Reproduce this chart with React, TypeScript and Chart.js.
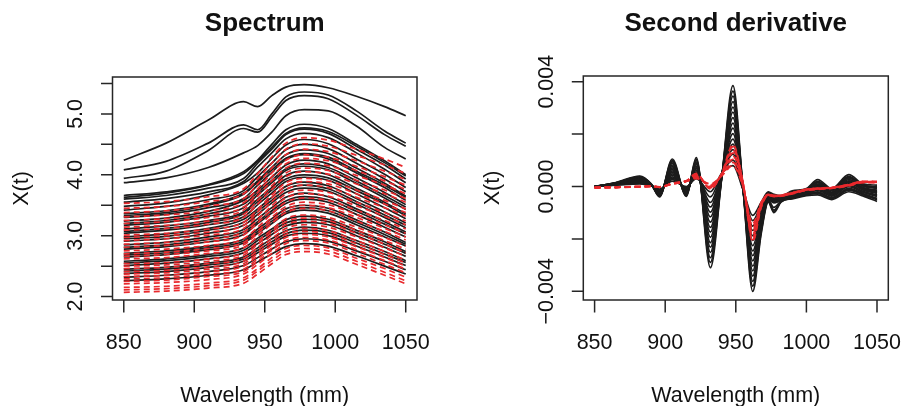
import React, { useEffect, useRef } from "react";
import { Chart, registerables } from "chart.js";
Chart.register(...registerables);

// ---------- Spectrum panel data ----------
const wavelengths = [850, 880, 910, 935, 945, 955, 965, 978, 995, 1015, 1035, 1050];

const spectrumHighFat: number[][] = [
  [4.24, 4.52, 4.90, 5.20, 5.12, 5.30, 5.44, 5.48, 5.43, 5.29, 5.12, 4.97],
  [4.08, 4.22, 4.52, 4.82, 4.74, 5.00, 5.28, 5.36, 5.31, 5.05, 4.72, 4.52],
  [3.94, 4.06, 4.40, 4.76, 4.70, 4.95, 5.22, 5.30, 5.25, 4.98, 4.66, 4.47],
  [3.87, 3.95, 4.12, 4.36, 4.48, 4.70, 4.97, 5.07, 5.05, 4.80, 4.45, 4.26],
  [3.66, 3.72, 3.84, 4.05, 4.24, 4.50, 4.74, 4.83, 4.76, 4.50, 4.23, 4.00],
  [3.63, 3.70, 3.83, 4.02, 4.22, 4.45, 4.68, 4.77, 4.71, 4.47, 4.20, 3.98],
  [3.60, 3.66, 3.78, 3.94, 4.19, 4.42, 4.66, 4.75, 4.68, 4.42, 4.16, 3.93],
  [3.55, 3.61, 3.72, 3.89, 4.13, 4.36, 4.59, 4.68, 4.61, 4.36, 4.09, 3.87],
  [3.48, 3.54, 3.67, 3.86, 4.03, 4.27, 4.49, 4.58, 4.51, 4.26, 4.01, 3.79],
  [3.42, 3.48, 3.59, 3.74, 3.97, 4.19, 4.41, 4.50, 4.43, 4.19, 3.93, 3.72],
  [3.36, 3.41, 3.52, 3.70, 3.90, 4.12, 4.33, 4.41, 4.35, 4.11, 3.86, 3.65],
  [3.33, 3.38, 3.50, 3.68, 3.88, 4.08, 4.27, 4.35, 4.29, 4.06, 3.83, 3.63],
  [3.30, 3.35, 3.46, 3.61, 3.83, 4.04, 4.25, 4.33, 4.26, 4.03, 3.79, 3.58],
  [3.24, 3.29, 3.40, 3.58, 3.75, 3.96, 4.16, 4.24, 4.18, 3.95, 3.71, 3.51],
  [3.20, 3.25, 3.36, 3.52, 3.71, 3.91, 4.10, 4.18, 4.12, 3.90, 3.66, 3.47],
  [3.17, 3.22, 3.32, 3.46, 3.67, 3.87, 4.07, 4.14, 4.08, 3.86, 3.62, 3.43],
  [3.11, 3.16, 3.25, 3.39, 3.60, 3.79, 3.99, 4.06, 4.00, 3.78, 3.55, 3.36],
  [3.07, 3.12, 3.22, 3.36, 3.56, 3.75, 3.93, 4.00, 3.95, 3.74, 3.52, 3.33],
  [3.04, 3.09, 3.18, 3.31, 3.51, 3.70, 3.89, 3.96, 3.91, 3.69, 3.46, 3.28],
  [2.98, 3.03, 3.12, 3.27, 3.44, 3.63, 3.81, 3.88, 3.82, 3.61, 3.39, 3.21],
  [2.95, 2.99, 3.09, 3.22, 3.40, 3.58, 3.76, 3.83, 3.77, 3.56, 3.34, 3.17],
  [2.91, 2.95, 3.04, 3.17, 3.35, 3.54, 3.71, 3.78, 3.73, 3.52, 3.30, 3.13],
  [2.85, 2.89, 2.98, 3.10, 3.28, 3.46, 3.63, 3.70, 3.64, 3.44, 3.23, 3.06],
  [2.81, 2.85, 2.94, 3.06, 3.23, 3.41, 3.57, 3.64, 3.59, 3.40, 3.19, 3.03],
  [2.78, 2.82, 2.90, 3.02, 3.20, 3.37, 3.53, 3.60, 3.55, 3.35, 3.14, 2.98],
  [2.71, 2.75, 2.83, 2.94, 3.11, 3.28, 3.44, 3.50, 3.45, 3.26, 3.06, 2.89],
  [2.68, 2.72, 2.80, 2.91, 3.07, 3.24, 3.39, 3.46, 3.41, 3.22, 3.02, 2.86],
  [2.65, 2.69, 2.77, 2.88, 3.04, 3.20, 3.36, 3.42, 3.37, 3.18, 2.98, 2.83],
  [2.58, 2.62, 2.69, 2.80, 2.96, 3.11, 3.26, 3.32, 3.27, 3.09, 2.90, 2.74],
  [2.55, 2.59, 2.66, 2.76, 2.92, 3.07, 3.21, 3.27, 3.23, 3.05, 2.86, 2.71],
  [2.51, 2.55, 2.62, 2.72, 2.87, 3.02, 3.16, 3.22, 3.18, 3.00, 2.81, 2.66],
  [2.45, 2.48, 2.55, 2.65, 2.80, 2.95, 3.08, 3.14, 3.09, 2.92, 2.74, 2.59],
  [2.42, 2.45, 2.52, 2.62, 2.76, 2.90, 3.03, 3.09, 3.05, 2.88, 2.70, 2.56],
  [2.38, 2.41, 2.48, 2.58, 2.72, 2.86, 2.99, 3.04, 3.00, 2.83, 2.65, 2.51],
  [2.32, 2.35, 2.41, 2.51, 2.64, 2.78, 2.90, 2.95, 2.91, 2.75, 2.58, 2.44],
  [2.26, 2.29, 2.35, 2.44, 2.57, 2.70, 2.82, 2.87, 2.83, 2.67, 2.50, 2.37],
];

const spectrumLowFat: number[][] = [
  [3.53, 3.56, 3.64, 3.77, 4.02, 4.29, 4.52, 4.61, 4.57, 4.42, 4.26, 4.12],
  [3.45, 3.48, 3.56, 3.69, 3.93, 4.19, 4.42, 4.51, 4.47, 4.32, 4.16, 4.02],
  [3.38, 3.41, 3.49, 3.61, 3.85, 4.11, 4.33, 4.42, 4.38, 4.23, 4.06, 3.92],
  [3.31, 3.34, 3.41, 3.54, 3.77, 4.03, 4.24, 4.33, 4.29, 4.14, 3.97, 3.83],
  [3.25, 3.28, 3.35, 3.47, 3.71, 3.97, 4.18, 4.27, 4.23, 4.07, 3.90, 3.76],
  [3.20, 3.23, 3.30, 3.42, 3.65, 3.90, 4.11, 4.19, 4.15, 3.99, 3.83, 3.69],
  [3.14, 3.17, 3.24, 3.35, 3.58, 3.82, 4.03, 4.11, 4.07, 3.91, 3.75, 3.61],
  [3.09, 3.12, 3.19, 3.30, 3.52, 3.76, 3.97, 4.05, 4.01, 3.85, 3.69, 3.55],
  [3.01, 3.04, 3.11, 3.22, 3.43, 3.67, 3.87, 3.94, 3.90, 3.75, 3.58, 3.44],
  [2.97, 3.00, 3.06, 3.17, 3.39, 3.62, 3.82, 3.89, 3.85, 3.69, 3.52, 3.38],
  [2.92, 2.95, 3.01, 3.12, 3.33, 3.56, 3.76, 3.83, 3.79, 3.63, 3.46, 3.32],
  [2.86, 2.89, 2.95, 3.06, 3.26, 3.49, 3.68, 3.75, 3.71, 3.55, 3.38, 3.24],
  [2.81, 2.84, 2.90, 3.01, 3.21, 3.43, 3.62, 3.69, 3.65, 3.49, 3.32, 3.18],
  [2.75, 2.78, 2.84, 2.95, 3.14, 3.36, 3.55, 3.62, 3.58, 3.42, 3.25, 3.11],
  [2.70, 2.73, 2.79, 2.89, 3.08, 3.30, 3.48, 3.55, 3.51, 3.35, 3.18, 3.04],
  [2.66, 2.69, 2.75, 2.85, 3.04, 3.25, 3.43, 3.50, 3.46, 3.30, 3.12, 2.98],
  [2.62, 2.64, 2.71, 2.80, 2.99, 3.20, 3.38, 3.45, 3.41, 3.24, 3.07, 2.93],
  [2.54, 2.56, 2.62, 2.72, 2.90, 3.10, 3.28, 3.34, 3.30, 3.14, 2.97, 2.83],
  [2.50, 2.52, 2.58, 2.68, 2.86, 3.06, 3.23, 3.29, 3.25, 3.09, 2.92, 2.78],
  [2.46, 2.48, 2.54, 2.63, 2.81, 3.01, 3.18, 3.24, 3.20, 3.04, 2.86, 2.72],
  [2.41, 2.43, 2.49, 2.58, 2.76, 2.95, 3.12, 3.18, 3.14, 2.98, 2.80, 2.66],
  [2.37, 2.39, 2.45, 2.54, 2.71, 2.90, 3.07, 3.12, 3.08, 2.92, 2.74, 2.60],
  [2.33, 2.35, 2.41, 2.50, 2.67, 2.85, 3.02, 3.07, 3.03, 2.87, 2.69, 2.55],
  [2.29, 2.31, 2.37, 2.45, 2.62, 2.80, 2.97, 3.02, 2.98, 2.82, 2.64, 2.50],
  [2.25, 2.27, 2.33, 2.41, 2.58, 2.76, 2.92, 2.97, 2.93, 2.77, 2.59, 2.45],
  [2.21, 2.23, 2.28, 2.37, 2.53, 2.71, 2.87, 2.92, 2.88, 2.71, 2.53, 2.39],
  [2.15, 2.17, 2.22, 2.31, 2.46, 2.64, 2.79, 2.84, 2.80, 2.63, 2.46, 2.32],
  [2.11, 2.13, 2.18, 2.27, 2.42, 2.59, 2.74, 2.79, 2.75, 2.58, 2.40, 2.26],
  [2.07, 2.09, 2.14, 2.22, 2.37, 2.54, 2.69, 2.74, 2.70, 2.53, 2.35, 2.21],
];

// ---------- Second derivative panel data (values in units of 1e-4) ----------
const derivWavelengths = [850, 865, 882, 890, 896, 905, 915, 922, 932, 940, 948, 955, 962, 968, 973, 977, 982, 990, 1000, 1008, 1018, 1030, 1040, 1050];

const derivHighFatE4: number[][] = [
  [0, 0.5, 1.0, 0.3, -1.0, 2.0, 0.0, 3.0, -2.0, 5.0, 8.0, -1.0, -11.0, -6.0, -2.0, -3.0, -3.5, -1.7, -0.8, 2.6, -0.8, 4.5, 1.0, 0.5],
  [0, 0.6, 1.2, 0.3, -1.2, 2.6, -0.3, 3.6, -4.0, 4.9, 10.1, -0.9, -13.0, -6.8, -2.3, -3.3, -3.7, -2.3, -1.3, 1.4, -1.6, 3.2, 0.1, -0.7],
  [0, 0.6, 1.4, 0.4, -1.4, 3.2, -0.5, 4.1, -6.1, 4.7, 12.3, -0.9, -15.1, -7.7, -2.6, -3.6, -3.9, -3.1, -2.0, 0.0, -2.7, 1.6, -1.1, -2.3],
  [0, 0.7, 1.6, 0.4, -1.6, 3.7, -0.8, 4.6, -7.8, 4.6, 14.1, -0.8, -16.8, -8.4, -2.8, -3.9, -4.0, -2.0, -1.1, 2.0, -1.2, 3.9, 0.5, -0.1],
  [0, 0.8, 1.8, 0.5, -1.8, 4.3, -1.0, 5.2, -9.8, 4.5, 16.2, -0.7, -18.8, -9.2, -3.1, -4.2, -4.2, -3.7, -2.6, -1.2, -3.5, 0.3, -2.0, -3.5],
  [0, 0.8, 2.0, 0.5, -2.0, 4.8, -1.3, 5.6, -11.6, 4.3, 18.1, -0.7, -20.6, -10.0, -3.3, -4.5, -4.3, -2.6, -1.6, 0.9, -2.1, 2.6, -0.4, -1.4],
  [0, 0.9, 2.2, 0.6, -2.2, 5.4, -1.5, 6.2, -13.6, 4.2, 20.2, -0.6, -22.6, -10.8, -3.6, -4.8, -4.5, -3.2, -2.2, -0.3, -2.9, 1.3, -1.3, -2.6],
  [0, 1.0, 2.4, 0.6, -2.4, 6.0, -1.8, 6.8, -15.6, 4.1, 22.3, -0.5, -24.6, -11.6, -3.9, -5.1, -4.7, -4.1, -3.0, -2.0, -4.2, -0.7, -2.7, -4.5],
  [0, 1.0, 2.6, 0.7, -2.6, 6.5, -2.0, 7.2, -17.4, 3.9, 24.2, -0.5, -26.4, -12.4, -4.1, -5.4, -4.8, -2.8, -1.7, 0.6, -2.3, 2.2, -0.6, -1.7],
  [0, 1.1, 2.8, 0.7, -2.8, 7.1, -2.3, 7.8, -19.4, 3.8, 26.3, -0.4, -28.4, -13.2, -4.4, -5.7, -5.0, -3.5, -2.4, -0.9, -3.3, 0.6, -1.8, -3.2],
  [0, 1.2, 3.0, 0.8, -3.0, 7.7, -2.5, 8.4, -21.4, 3.7, 28.4, -0.3, -30.4, -14.0, -4.7, -6.0, -5.2, -2.2, -1.2, 1.7, -1.4, 3.5, 0.3, -0.4],
  [0, 1.2, 3.2, 0.8, -3.2, 8.2, -2.8, 8.8, -23.2, 3.5, 30.3, -0.3, -32.2, -14.8, -4.9, -6.3, -5.3, -4.4, -3.2, -2.6, -4.6, -1.4, -3.1, -5.1],
  [0, 1.3, 3.4, 0.9, -3.4, 8.8, -3.0, 9.4, -25.2, 3.4, 32.4, -0.2, -34.2, -15.6, -5.2, -8.0, -5.5, -2.9, -1.9, 0.3, -2.5, 1.9, -0.8, -2.0],
  [0, 1.4, 3.6, 0.9, -3.6, 9.4, -3.3, 10.0, -27.2, 3.3, 34.5, -0.1, -36.2, -16.4, -5.5, -9.0, -5.7, -3.8, -2.7, -1.5, -3.7, -0.1, -2.2, -3.8],
  [0, 1.4, 3.8, 1.0, -3.8, 9.9, -3.5, 10.4, -29.0, 3.1, 36.4, -0.1, -38.0, -17.2, -5.7, -9.5, -5.8, -4.7, -3.5, -3.2, -5.0, -2.0, -3.6, -5.7],
  [0, 1.5, 4.0, 1.0, -4.0, 10.5, -3.8, 11.0, -31.0, 3.0, 38.5, 0.0, -40.0, -18.0, -6.0, -10.0, -6.0, -4.3, -3.1, -2.3, -4.4, -1.0, -2.9, -4.8],
];

const derivLowFatE4: number[][] = [
  [-0.4, -0.3, -0.1, 0.0, -0.2, 1.0, 2.0, 3.0, 1.0, 4.0, 8.0, 0.0, -14.0, -6.0, -3.0, -3.5, -3.5, -2.5, -1.2, -0.8, -0.5, 0.5, 1.8, 1.8],
  [-0.3, -0.2, 0.0, 0.1, -0.1, 1.1, 2.1, 3.3, 0.7, 4.2, 9.2, 0.3, -15.1, -6.3, -3.2, -3.7, -3.3, -2.3, -1.0, -0.6, -0.3, 0.8, 2.0, 2.0],
  [-0.5, -0.4, -0.2, 0.0, -0.3, 0.9, 1.9, 3.6, 0.4, 4.3, 10.4, 0.6, -16.1, -6.6, -2.9, -3.4, -3.6, -2.6, -1.4, -1.0, -0.6, 0.3, 1.6, 1.5],
  [-0.4, -0.3, 0.0, 0.1, -0.2, 1.2, 2.2, 3.9, 0.1, 4.5, 11.6, 0.9, -17.2, -6.9, -3.1, -3.6, -3.4, -2.4, -1.1, -0.7, -0.4, 0.6, 1.9, 1.9],
  [-0.3, -0.3, -0.1, 0.0, -0.2, 1.0, 2.0, 4.2, -0.2, 4.6, 12.8, 1.2, -18.2, -7.2, -3.3, -3.8, -3.6, -2.7, -1.3, -0.9, -0.5, 0.4, 1.7, 1.6],
  [-0.4, -0.2, 0.0, 0.2, -0.1, 1.1, 2.1, 4.5, -0.5, 4.8, 14.0, 1.5, -19.3, -7.5, -3.0, -3.5, -3.4, -2.5, -1.2, -0.8, -0.4, 0.7, 1.9, 1.8],
  [-0.5, -0.3, -0.1, 0.1, -0.2, 1.0, 2.0, 4.8, -0.8, 4.9, 15.2, 1.8, -20.3, -7.8, -3.4, -3.9, -3.7, -2.8, -1.5, -1.1, -0.7, 0.2, 1.5, 1.4],
  [-0.4, -0.3, 0.0, 0.1, -0.2, 1.2, 2.2, 5.0, -1.0, 5.0, 16.0, 2.0, -21.0, -8.0, -3.2, -3.7, -3.5, -2.6, -1.2, -0.8, -0.5, 0.6, 1.8, 1.7],
];

// ---------- Axis ticks ----------
const xTicks = [850, 900, 950, 1000, 1050];
const xTickLabels = ["850", "900", "950", "1000", "1050"];
const spectrumYTicks = [2.0, 2.5, 3.0, 3.5, 4.0, 4.5, 5.0, 5.5];
const spectrumYLabels = ["2.0", "", "3.0", "", "4.0", "", "5.0", ""];
const derivYTicks = [-0.004, -0.002, 0, 0.002, 0.004];
const derivYLabels = ["\u22120.004", "", "0.000", "", "0.004"];

const BLACK = "#1c1c1c";
const RED = "#e8292d";
const FONT = '"Liberation Sans", Arial, Helvetica, sans-serif';

function rAxesPlugin(title: string, yTicks: number[], yLabels: string[]) {
  return {
    id: "rAxes",
    afterDatasetsDraw(chart: any) {
      const { ctx, chartArea: a, scales } = chart;
      const xs = scales.x;
      const ys = scales.y;
      ctx.save();
      ctx.strokeStyle = "#262626";
      ctx.lineWidth = 1.5;
      ctx.setLineDash([]);
      ctx.strokeRect(a.left, a.top, a.right - a.left, a.bottom - a.top);
      ctx.beginPath();
      for (const t of xTicks) {
        const px = xs.getPixelForValue(t);
        ctx.moveTo(px, a.bottom);
        ctx.lineTo(px, a.bottom + 12.5);
      }
      for (const t of yTicks) {
        const py = ys.getPixelForValue(t);
        ctx.moveTo(a.left, py);
        ctx.lineTo(a.left - 11.5, py);
      }
      ctx.stroke();

      ctx.fillStyle = "#111";
      ctx.font = `21.5px ${FONT}`;
      ctx.textAlign = "center";
      ctx.textBaseline = "alphabetic";
      xTicks.forEach((t, i) => {
        ctx.fillText(xTickLabels[i], xs.getPixelForValue(t), 348.5);
      });
      ctx.fillText("Wavelength (mm)", (a.left + a.right) / 2, 402);

      yTicks.forEach((t, i) => {
        if (!yLabels[i]) return;
        ctx.save();
        ctx.translate(a.left - 30.8, ys.getPixelForValue(t));
        ctx.rotate(-Math.PI / 2);
        ctx.fillText(yLabels[i], 0, 0);
        ctx.restore();
      });
      ctx.save();
      ctx.translate(a.left - 84.2, (a.top + a.bottom) / 2);
      ctx.rotate(-Math.PI / 2);
      ctx.fillText("X(t)", 0, 0);
      ctx.restore();

      ctx.font = `bold 26px ${FONT}`;
      ctx.fillText(title, (a.left + a.right) / 2, 31);
      ctx.restore();
    },
  };
}

function lineDataset(xs: number[], ys: number[], red: boolean, scale = 1) {
  return {
    data: xs.map((x, i) => ({ x, y: ys[i] / scale })),
    borderColor: red ? RED : BLACK,
    borderWidth: 1.7,
    borderDash: red ? [6, 4] : [],
    pointRadius: 0,
    fill: false,
    cubicInterpolationMode: "monotone" as const,
  };
}

function makeChart(
  canvas: HTMLCanvasElement,
  datasets: any[],
  yMin: number,
  yMax: number,
  padding: { left: number; right: number; top: number; bottom: number },
  plugin: any
) {
  return new Chart(canvas, {
    type: "line",
    data: { datasets },
    options: {
      responsive: false,
      animation: false,
      devicePixelRatio: 1,
      events: [],
      layout: { padding },
      plugins: { legend: { display: false }, tooltip: { enabled: false } },
      scales: {
        x: { type: "linear", min: 842, max: 1058, display: false },
        y: { type: "linear", min: yMin, max: yMax, display: false },
      },
    },
    plugins: [plugin],
  });
}

export default function App() {
  const leftRef = useRef<HTMLCanvasElement>(null);
  const rightRef = useRef<HTMLCanvasElement>(null);

  useEffect(() => {
    // Spectrum: interleave the two groups so they overlap like the original
    const specSets: any[] = [];
    const n = Math.max(spectrumHighFat.length, spectrumLowFat.length);
    for (let i = 0; i < n; i++) {
      if (i < spectrumLowFat.length) specSets.push(lineDataset(wavelengths, spectrumLowFat[i], true));
      if (i < spectrumHighFat.length) specSets.push(lineDataset(wavelengths, spectrumHighFat[i], false));
    }
    const left = makeChart(
      leftRef.current!,
      specSets,
      1.944,
      5.606,
      { left: 112.5, right: 35, top: 77, bottom: 106 },
      rAxesPlugin("Spectrum", spectrumYTicks, spectrumYLabels)
    );

    // Second derivative: red group first so it is drawn on top
    const derivSets: any[] = [
      ...derivLowFatE4.map((c) => lineDataset(derivWavelengths, c, true, 1e4)),
      ...derivHighFatE4.map((c) => lineDataset(derivWavelengths, c, false, 1e4)),
    ];
    const right = makeChart(
      rightRef.current!,
      derivSets,
      -0.004333,
      0.004218,
      { left: 131.3, right: 14.7, top: 76, bottom: 106 },
      rAxesPlugin("Second derivative", derivYTicks, derivYLabels)
    );
    return () => {
      left.destroy();
      right.destroy();
    };
  }, []);

  return (
    <div style={{ position: "fixed", left: 0, top: 0, width: 903, height: 406, background: "#fff", overflow: "hidden" }}>
      <canvas ref={leftRef} width={452} height={406} style={{ position: "absolute", left: 0, top: 0, width: 452, height: 406 }} />
      <canvas ref={rightRef} width={451} height={406} style={{ position: "absolute", left: 452, top: 0, width: 451, height: 406 }} />
    </div>
  );
}
